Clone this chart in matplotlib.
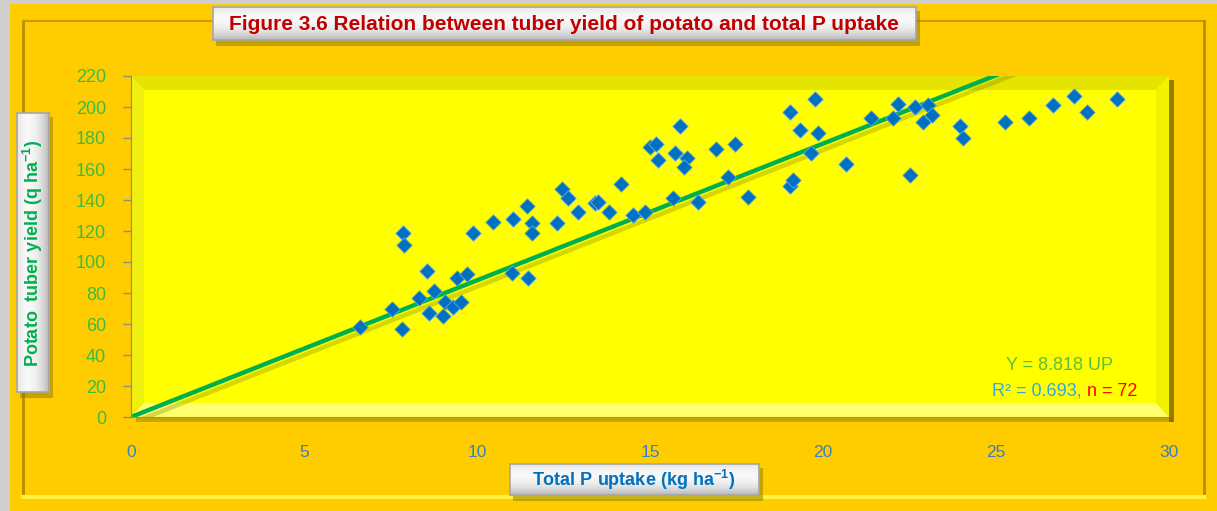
import numpy as np
import matplotlib.pyplot as plt
from matplotlib.patches import Rectangle, Polygon
import matplotlib.patheffects as pe

plt.rcParams['font.family'] = ['Liberation Sans', 'DejaVu Sans']
plt.rcParams['mathtext.default'] = 'regular'

# total P uptake (kg/ha) and potato tuber yield (q/ha)
p_uptake = [6.62, 7.54, 7.83, 7.86, 7.89, 8.32, 8.55, 8.61, 8.76, 9.02,
            9.08, 9.31, 9.54, 9.42, 9.71, 9.88, 10.46, 11.04, 11.01, 11.47,
            11.45, 11.59, 11.59, 12.31, 12.46, 12.63, 12.92, 13.41, 13.50, 13.82,
            14.16, 14.51, 14.86, 15.00, 15.17, 15.23, 15.66, 15.72, 15.87, 16.07,
            15.98, 16.39, 16.91, 17.25, 17.46, 17.83, 19.05, 19.05, 19.13, 19.34,
            19.65, 19.77, 19.86, 20.66, 21.39, 22.02, 22.17, 22.51, 22.66, 23.03,
            23.15, 22.89, 23.96, 24.05, 25.26, 25.95, 26.65, 27.25, 27.63, 28.50]
tuber_yield = [58, 70, 57, 119, 111, 77, 94, 67, 81, 65,
               74, 71, 74, 90, 92, 119, 126, 128, 93, 90,
               136, 125, 119, 125, 147, 141, 132, 138, 139, 132,
               150, 130, 132, 174, 176, 166, 141, 170, 188, 167,
               161, 139, 173, 155, 176, 142, 197, 149, 153, 185,
               170, 205, 183, 163, 193, 193, 202, 156, 200, 201,
               195, 190, 188, 180, 190, 193, 201, 207, 197, 205]
slope = 8.818
r2 = 0.693
n_obs = 72
x_ticks = [0, 5, 10, 15, 20, 25, 30]
y_ticks = list(range(0, 221, 20))

W, H = 1217, 511
fig = plt.figure(figsize=(W / 100, H / 100), dpi=100)
fig.patch.set_facecolor('#FFCC00')


def fx(x):
    return x / W


def fy(y):
    return 1 - y / H


def frect(x0, y0, x1, y1, **kw):
    r = Rectangle((fx(x0), fy(y1)), (x1 - x0) / W, (y1 - y0) / H,
                  transform=fig.transFigure, **kw)
    fig.add_artist(r)
    return r


def fline(xs, ys, **kw):
    fig.add_artist(plt.Line2D([fx(v) for v in xs], [fy(v) for v in ys],
                              transform=fig.transFigure, **kw))


def label_box(x0, y0, x1, y1, vertical=False):
    frect(x0 + 3, y0 + 4, x1 + 4, y1 + 6, facecolor='#8F7A00', alpha=0.5, lw=0, zorder=4)
    bax = fig.add_axes([fx(x0), fy(y1), (x1 - x0) / W, (y1 - y0) / H], zorder=5)
    t = np.linspace(0, 1, 60)
    shade = 0.97 - 0.25 * np.clip(np.abs(t - 0.35) / 0.65, 0, 1) ** 2
    if vertical:
        img = np.tile(shade, (10, 1))
    else:
        img = np.tile(shade[:, None], (1, 10))
    bax.imshow(img, cmap='gray', vmin=0, vmax=1, aspect='auto',
               extent=[0, 1, 0, 1], interpolation='bilinear')
    bax.set_xticks([])
    bax.set_yticks([])
    for s in bax.spines.values():
        s.set_color('#A6A6A6')
        s.set_linewidth(1.2)


# outer frame
frect(0, 0, 10, H, facecolor='#CFCFCF', lw=0, zorder=-2)
frect(0, 0, W, 4, facecolor='#CFCFCF', lw=0, zorder=-2)
fline([23, 23], [21, 497], color='#B88E00', lw=2, zorder=-1)
fline([23, 1204], [21, 21], color='#C99B00', lw=1.5, zorder=-1)
fline([1204, 1204], [21, 497], color='#B88E00', lw=2, zorder=-1)
fline([23, 1204], [497, 497], color='#FFF040', lw=3, zorder=-1)

# panel shadow
frect(136, 417, 1173, 422, facecolor='#A88A00', alpha=0.6, lw=0, zorder=-1)
frect(1169, 80, 1174, 422, facecolor='#6E5C00', alpha=0.7, lw=0, zorder=-1)

ax = fig.add_axes([fx(131), fy(417), (1169 - 131) / W, (417 - 76) / H])
ax.set_facecolor('#FFFF00')

# bevel on the yellow panel
bw, bh = 13 / 1038, 14 / 341
ax.add_patch(Polygon([(0, 1), (1, 1), (1 - bw, 1 - bh), (bw, 1 - bh)], closed=True,
                     transform=ax.transAxes, facecolor='#E4E400', lw=0, zorder=0.5))
ax.add_patch(Polygon([(0, 0), (0, 1), (bw, 1 - bh), (bw, bh)], closed=True,
                     transform=ax.transAxes, facecolor='#EFEF10', lw=0, zorder=0.5))
ax.add_patch(Polygon([(0, 0), (1, 0), (1 - bw, bh), (bw, bh)], closed=True,
                     transform=ax.transAxes, facecolor='#FFFF70', lw=0, zorder=0.5))
ax.add_patch(Polygon([(1, 0), (1, 1), (1 - bw, 1 - bh), (1 - bw, bh)], closed=True,
                     transform=ax.transAxes, facecolor='#F2F200', lw=0, zorder=0.5))

xl = np.array([0, 30])
ax.plot(xl, slope * xl, color='#00B050', lw=3.2, zorder=2, solid_capstyle='butt',
        path_effects=[pe.SimpleLineShadow(offset=(1.5, -4), shadow_color='#7A7A00', alpha=0.3),
                      pe.Normal()])
ax.scatter(p_uptake, tuber_yield, marker='D', s=62, color='#0070C0',
           edgecolors='#6FA8DC', linewidths=0.6, zorder=3)

ax.set_xlim(0, 30)
ax.set_ylim(0, 220)
ax.set_xticks(x_ticks)
ax.set_yticks(y_ticks)
ax.tick_params(axis='y', direction='out', length=6, width=1, color='#8C8C8C',
               pad=12, labelsize=13, labelcolor='#3DBB45')
ax.tick_params(axis='x', length=0, pad=20, labelsize=12.5, labelcolor='#3B7FC4')
for side in ['top', 'right']:
    ax.spines[side].set_visible(False)
ax.spines['left'].set_color('#8C8C8C')
ax.spines['bottom'].set_color('#A0A000')

# regression annotation
fig.text(fx(1059), fy(366), f'Y = {slope:.3f} UP', ha='center', va='center',
         fontsize=13, color='#5CBF3A', zorder=6)
fig.text(fx(1082), fy(391), f'R² = {r2:.3f},', ha='right', va='center',
         fontsize=13, color='#33A8E0', zorder=6)
fig.text(fx(1087), fy(391), f'n = {n_obs}', ha='left', va='center',
         fontsize=13, color='#FF0000', zorder=6)

# title and axis label boxes
label_box(213, 7, 916, 40)
fig.text(fx(564), fy(24), 'Figure 3.6 Relation between tuber yield of potato and total P uptake',
         ha='center', va='center', fontsize=15, fontweight='bold', color='#C00000', zorder=6)

label_box(17, 113, 49, 392, vertical=True)
fig.text(fx(33), fy(253), 'Potato  tuber yield (q ha$^{-1}$)', rotation=90,
         ha='center', va='center', fontsize=13, fontweight='bold', color='#00B050', zorder=6)

label_box(510, 464, 759, 495)
fig.text(fx(634), fy(480), 'Total P uptake (kg ha$^{-1}$)', ha='center', va='center',
         fontsize=13, fontweight='bold', color='#0070C0', zorder=6)

fig.savefig('out.png', dpi=100, facecolor=fig.get_facecolor())
